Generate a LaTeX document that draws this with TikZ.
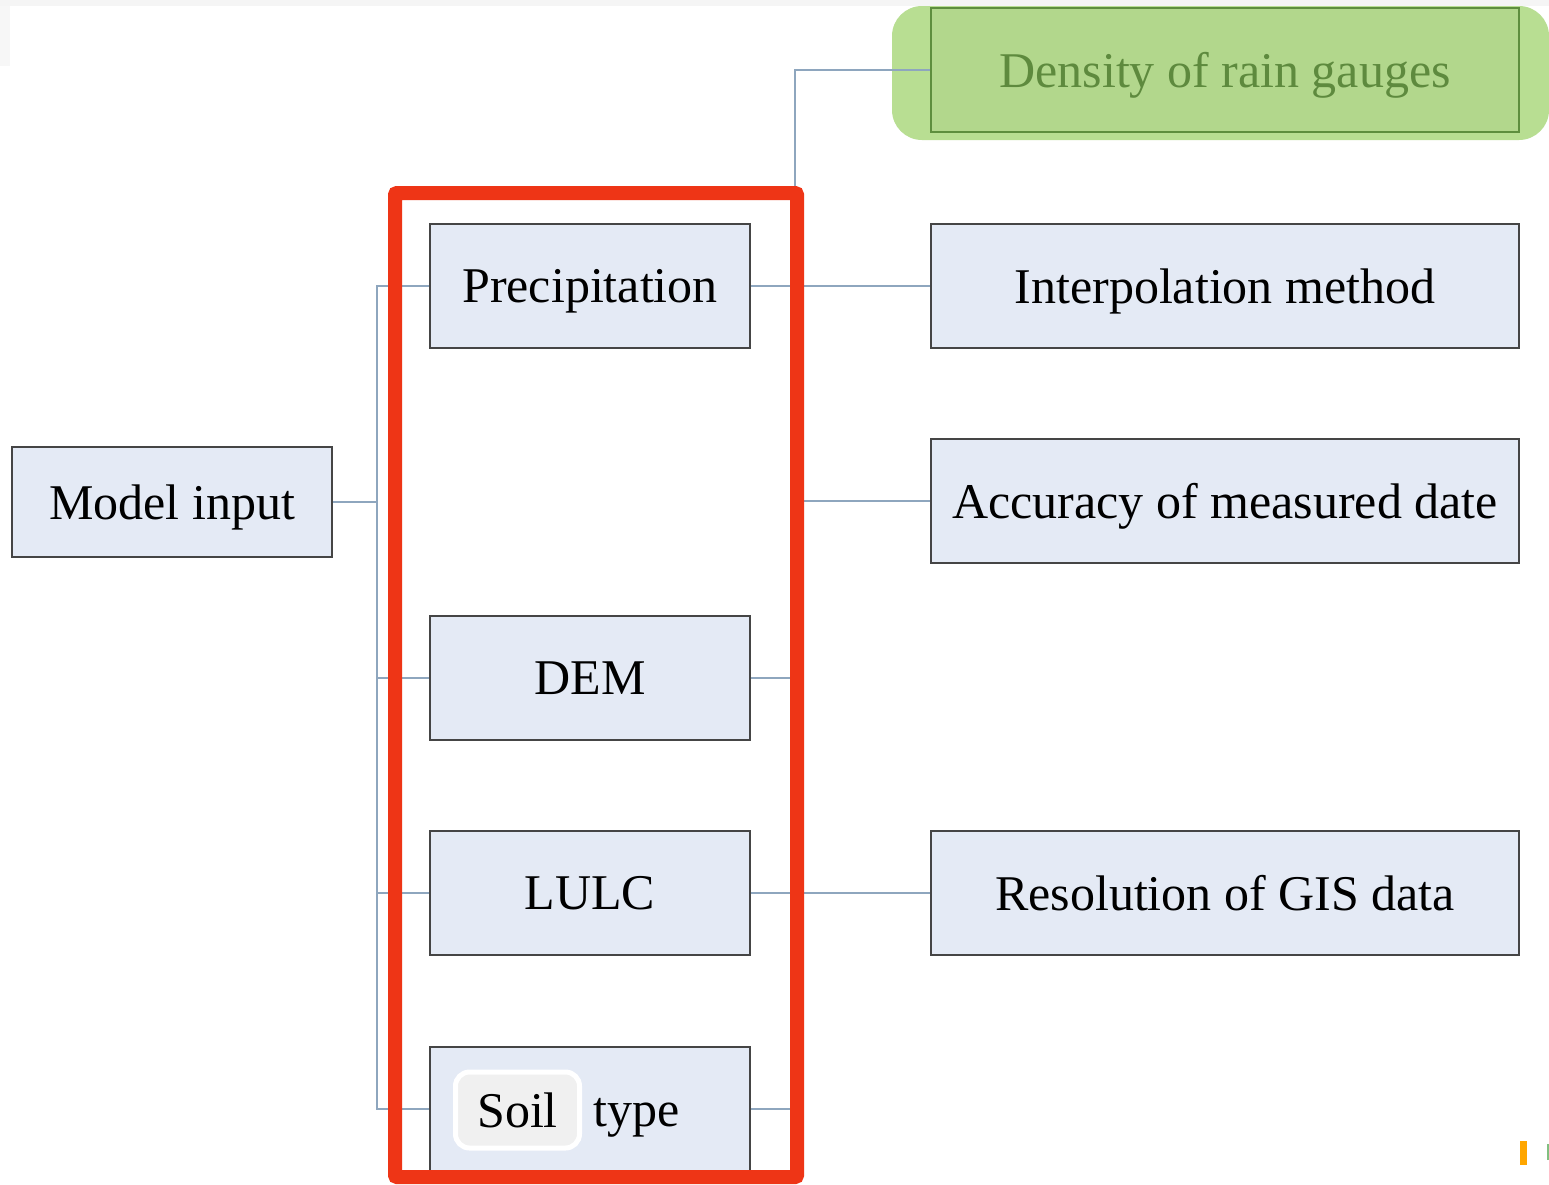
\documentclass[tikz,border=0pt]{standalone}
\usepackage{fontspec}
\setmainfont{Liberation Serif}
\definecolor{boxfill}{HTML}{E4EAF5}
\definecolor{boxline}{HTML}{454545}
\definecolor{conn}{HTML}{8EA6BE}
\definecolor{redframe}{HTML}{EE3516}
\definecolor{greenbg}{HTML}{B8DE92}
\definecolor{greenbox}{HTML}{B2D78C}
\definecolor{greenline}{HTML}{5E8E3E}
\definecolor{greentext}{HTML}{5E8A3E}
\begin{document}
\begin{tikzpicture}[x=1pt,y=-1pt,
  box/.style={draw=boxline,line width=2pt,fill=boxfill,minimum height=124pt,inner sep=0pt,
    text depth=0pt,font=\fontsize{50}{56}\selectfont},
  leftbox/.style={box,minimum width=320pt},
  rightbox/.style={box,minimum width=588pt},
  link/.style={draw=conn,line width=2pt}]
\useasboundingbox (0,0) rectangle (1549,1184);
\fill[white] (0,0) rectangle (1549,1184);
\fill[black!4] (0,0) rectangle (1549,6);
\fill[black!3] (0,6) rectangle (10,66);
% green highlight
\fill[greenbg,rounded corners=30pt] (892,6) rectangle (1549,140);
% boxes
\node[box,minimum width=320pt,minimum height=110pt] (mi) at (172,502) {Model input};
\node[leftbox] (pr) at (590,286) {Precipitation};
\node[leftbox] (dem) at (590,678) {DEM};
\node[leftbox] (lulc) at (590,893) {LULC};
\node[leftbox] (soil) at (590,1109) {\phantom{Soil}\hspace{12pt}type};
\node[rightbox,fill=greenbox,draw=greenline,text=greentext] (den) at (1225,70) {Density of rain gauges};
\node[rightbox] (int) at (1225,286) {Interpolation method};
\node[rightbox] (acc) at (1225,501) {Accuracy of measured date};
\node[rightbox] (res) at (1225,893) {Resolution of GIS data};
% soil chip
\node[draw=white,line width=5pt,fill=black!6,rounded corners=14pt,minimum width=124pt,minimum height=76pt,
  inner sep=0pt,text depth=0pt,font=\fontsize{50}{56}\selectfont] (chip) at (517.5,1110) {Soil};
% trunk coordinates
\coordinate (lt) at (377,0);
\coordinate (rt) at (795,0);
% left connectors
\draw[link] (mi.east) -- (mi.east -| lt);
\draw[link] (pr.west) -- (pr.west -| lt) -- (soil.west -| lt) -- (soil.west);
\draw[link] (dem.west -| lt) -- (dem.west);
\draw[link] (lulc.west -| lt) -- (lulc.west);
% right connectors
\draw[link] (den.west) -- (den.west -| rt) -- (soil.east -| rt) -- (soil.east);
\draw[link] (pr.east) -- (int.west);
\draw[link] (acc.west) -- (acc.west -| rt);
\draw[link] (dem.east) -- (dem.east -| rt);
\draw[link] (lulc.east) -- (res.west);
% red frame
\draw[redframe,line width=14pt,rounded corners=2pt] (395,193) rectangle (797,1177);
% small artifacts bottom right
\fill[orange!70!yellow] (1520,1141) rectangle (1527,1165);
\fill[green!50!black!50] (1547,1144) rectangle (1549,1160);
\end{tikzpicture}
\end{document}
